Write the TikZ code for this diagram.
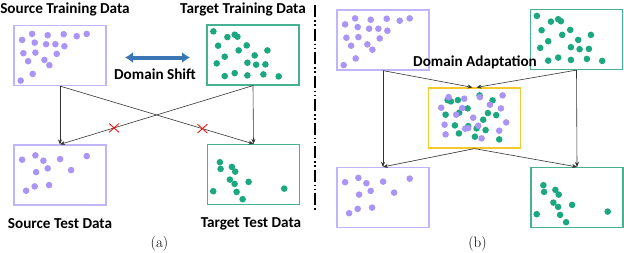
\documentclass[tikz,border=0pt]{standalone}
\usepackage{fontspec}
\newfontfamily\lblfont{Carlito}
\usetikzlibrary{arrows.meta,shapes.misc}

\definecolor{srcdot}{RGB}{170,148,245}
\definecolor{srcline}{RGB}{192,180,250}
\definecolor{tgtdot}{RGB}{27,168,128}
\definecolor{tgtline}{RGB}{70,178,145}
\definecolor{mixline}{RGB}{245,200,45}
\definecolor{shiftblue}{RGB}{58,118,182}

% dot layouts, relative to the north west corner of a box
\newcommand\srctraindots{8.7/15,18.7/9,34.3/10.3,50.3/9.3,63.3/11.3,73.3/9,21.3/17.7,32.7/19.3,42/19.3,51/21.3,10/28.3,22/27.7,43.3/29,31/35,14.7/36.3,36/40.3,19.3/49,7.3/55.7}
\newcommand\tgttraindots{7/7,21/12.7,28.3/10.3,31/12.3,11.7/21.3,40.3/21,32.3/26,61/26,18.3/32.3,48.3/31,10.3/39,41/38.3,49.7/40.3,59/40,18.3/51.7,28.3/48.7,41/51,57/50,72.3/52}
\newcommand\srctestdots{8.7/15.3,22/11,30/16.3,46.7/14.7,73.3/11.7,22.7/27.7,34.3/24,57.7/25.7,12.7/46.3,21.3/42,35.7/40.7}
\newcommand\tgttestdots{13/18.3,13.7/25,25/23,28.3/27.7,23/35.7,27.7/40,41.7/38,6.3/47.3,29.7/48,35.7/55.3,77.3/44.7}
\newcommand\mixgreendots{19.7/12.7,23/14,30/12.7,51.7/8,64.7/13,39.7/21,31.3/25.3,17.7/27.3,60/25.7,68.3/27.7,55.3/32.3,27/38,40.3/38.7,48.7/41,57.7/42.7,31/46,47/49.3,71.3/52}
\newcommand\mixpurpledots{20.7/9.7,36.3/11.3,52/9.7,74.7/8,13.3/20.3,34.3/20.7,62/17.3,73/21,28.3/27.3,45.3/30.3,78.3/35,16.7/37.3,40.3/40.7,37.3/41.3,50.3/38.3,17.7/47,53.7/51,71.3/43.3}

\tikzset{
  databox/.style={draw,line width=1.2pt,minimum width=92pt,minimum height=60pt,inner sep=0pt},
  srcbox/.style={databox,draw=srcline},
  tgtbox/.style={databox,draw=tgtline},
  mixbox/.style={databox,draw=mixline},
  lbl/.style={font=\lblfont\bfseries\fontsize{15.2}{18}\selectfont,anchor=base,inner sep=0pt},
  capt/.style={font=\fontsize{15}{18}\selectfont,inner sep=0pt},
  flow/.style={-{Stealth[length=5pt,width=4pt]},black!80,line width=0.6pt},
  nope/.style={cross out,draw=red,line width=0.8pt,minimum width=9pt,minimum height=8pt,inner sep=0pt},
}

\begin{document}
\begin{tikzpicture}[x=1pt,y=-1pt]
\useasboundingbox (0,0) rectangle (624,252);

% (a) without adaptation
\node[srcbox] (srcA) at (60,55.5) {};
\node[tgtbox] (tgtA) at (253,55) {};
\node[srcbox] (srcTestA) at (60,175) {};
\node[tgtbox] (tgtTestA) at (253.5,174.5) {};
\foreach \x/\y in \srctraindots {\fill[srcdot] (srcA.north west) ++(\x,\y) circle (3.3pt);}
\foreach \x/\y in \tgttraindots {\fill[tgtdot] (tgtA.north west) ++(\x,\y) circle (3.3pt);}
\foreach \x/\y in \srctestdots {\fill[srcdot] (srcTestA.north west) ++(\x,\y) circle (3.3pt);}
\foreach \x/\y in \tgttestdots {\fill[tgtdot] (tgtTestA.north west) ++(\x,\y) circle (3.3pt);}

\node[lbl] (srcLblA) at (65,13) {Source Training Data};
\node[lbl] (tgtLblA) at (243,13) {Target Training Data};
\node[lbl] (srcTestLblA) at (60,228) {Source Test Data};
\node[lbl] (tgtTestLblA) at (251,227.5) {Target Test Data};
\node[lbl] (shiftLbl) at (155,79.5) {Domain Shift};

\coordinate (shiftL) at (125,57.5);
\coordinate (shiftR) at (190,57.5);
\draw[{Latex[length=8pt,width=11pt]}-{Latex[length=8pt,width=11pt]},shiftblue,line width=4pt] (shiftL) -- (shiftR);

\draw[flow] (srcA.south) -- (srcTestA.north);
\draw[flow] (tgtA.south) -- (tgtTestA.north);
\draw[flow] (srcA.south) -- node[nope,pos=0.736] (noA2) {} (tgtTestA.north);
\draw[flow] (tgtA.south) -- node[nope,pos=0.72] (noA1) {} (srcTestA.north);

\node[capt] (captA) at (159.5,243.5) {(a)};

% divider
\coordinate (divTop) at (315,5);
\coordinate (divBot) at (315,212);
\draw[line width=1.6pt,dash pattern=on 12pt off 3pt on 1.5pt off 2.5pt on 1.5pt off 3pt] (divTop) -- (divBot);

% (b) with adaptation
\node[srcbox] (srcB) at (383,40) {};
\node[tgtbox] (tgtB) at (576.5,39.5) {};
\node[mixbox] (mixB) at (474.5,118) {};
\node[srcbox] (srcTestB) at (383,197.5) {};
\node[tgtbox] (tgtTestB) at (577,197.5) {};
\foreach \x/\y in \srctraindots {\fill[srcdot] (srcB.north west) ++(\x,\y) circle (3.3pt);}
\foreach \x/\y in \tgttraindots {\fill[tgtdot] (tgtB.north west) ++(\x,\y) circle (3.3pt);}
\foreach \x/\y in \mixgreendots {\fill[tgtdot] (mixB.north west) ++(\x,\y) circle (3.3pt);}
\foreach \x/\y in \mixpurpledots {\fill[srcdot] (mixB.north west) ++(\x,\y) circle (3.3pt);}
\foreach \x/\y in \srctestdots {\fill[srcdot] (srcTestB.north west) ++(\x,\y) circle (3.3pt);}
\foreach \x/\y in \tgttestdots {\fill[tgtdot] (tgtTestB.north west) ++(\x,\y) circle (3.3pt);}

\node[lbl] (adaptLbl) at (475,66) {Domain Adaptation};

\draw[flow] (srcB.south) -- (srcTestB.north);
\draw[flow] (tgtB.south) -- (tgtTestB.north);
\draw[flow] (srcB.south) -- ([xshift=-2pt]mixB.north);
\draw[flow] (tgtB.south) -- ([xshift=2pt]mixB.north);
\draw[flow] (mixB.south) -- (srcTestB.north);
\draw[flow] (mixB.south) -- (tgtTestB.north);

\node[capt] (captB) at (477.5,243.5) {(b)};
\end{tikzpicture}
\end{document}
